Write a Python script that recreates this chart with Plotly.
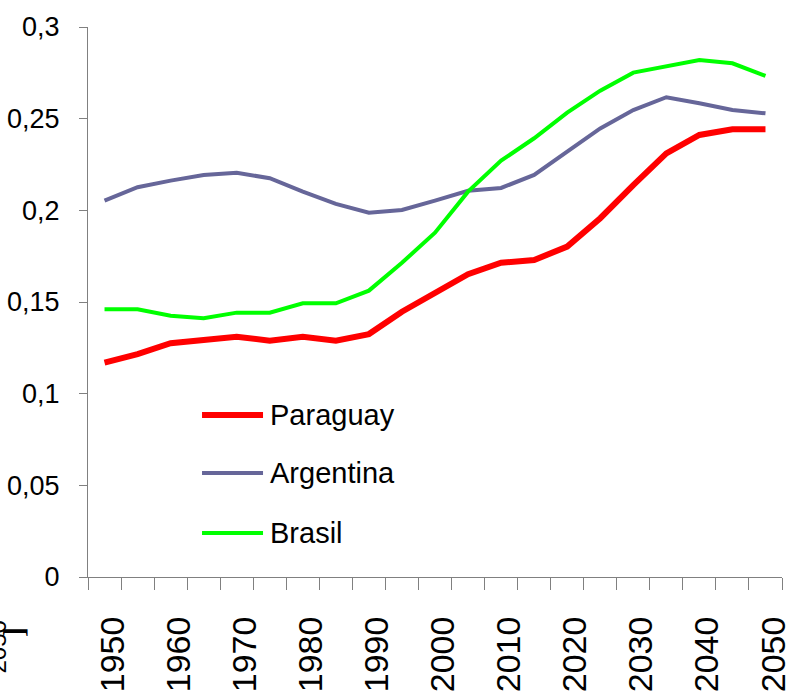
import plotly.graph_objects as go

# Years (every five years, 1950-2050)
years = list(range(1950, 2055, 5))

paraguay = [0.1169, 0.1216, 0.1275, 0.1293, 0.1311, 0.1289, 0.1311, 0.1289, 0.1325, 0.1447,
            0.1547, 0.1652, 0.1714, 0.1729, 0.1802, 0.1957, 0.2138, 0.2311, 0.2411, 0.2442, 0.2442]
argentina = [0.2053, 0.2126, 0.2162, 0.2193, 0.2205, 0.2175, 0.2102, 0.2035, 0.1987, 0.2002,
             0.2053, 0.2107, 0.2122, 0.2193, 0.2320, 0.2447, 0.2547, 0.2617, 0.2584, 0.2547, 0.2529]
brasil = [0.1460, 0.1460, 0.1425, 0.1411, 0.1442, 0.1442, 0.1493, 0.1493, 0.1562, 0.1714,
          0.1878, 0.2102, 0.2271, 0.2393, 0.2533, 0.2653, 0.2751, 0.2784, 0.2820, 0.2802, 0.2733]

series_names = ["Paraguay", "Argentina", "Brasil"]
series_values = [paraguay, argentina, brasil]
series_colors = ["#FF0000", "#666699", "#00FF00"]
series_widths = [6, 4, 4]

label_years = list(range(1950, 2051, 10))
y_ticks = [0, 0.05, 0.1, 0.15, 0.2, 0.25, 0.3]

FONT = "Liberation Sans, Arial, sans-serif"

fig = go.Figure()
for name, vals, col, w in zip(series_names, series_values, series_colors, series_widths):
    fig.add_trace(go.Scatter(
        x=years, y=vals, mode="lines", name=name,
        line=dict(color=col, width=w), showlegend=False,
    ))

# Hand-drawn legend: line sample plus label for each series
legend_rows_y = [0.2945, 0.1891, 0.080]
for name, col, w, yy in zip(series_names, series_colors, series_widths, legend_rows_y):
    fig.add_shape(type="line", xref="paper", yref="paper",
                  x0=0.1643, x1=0.2522, y0=yy, y1=yy,
                  line=dict(color=col, width=w))
    fig.add_annotation(xref="paper", yref="paper", x=0.2594, y=yy,
                       xanchor="left", yanchor="middle", showarrow=False,
                       text=name, font=dict(family=FONT, size=29, color="black"))

# Partially visible side caption at the lower-left edge
fig.add_annotation(xref="paper", yref="paper", x=-0.131, y=-0.128,
                   textangle=-90, showarrow=False, xanchor="center", yanchor="middle",
                   text="2050", font=dict(family=FONT, size=24, color="black"))
fig.add_annotation(xref="paper", yref="paper", x=-0.108, y=-0.10,
                   textangle=-90, showarrow=False, xanchor="center", yanchor="middle",
                   text="<b>]</b>", font=dict(family="Liberation Serif, serif", size=30, color="black"))

fig.update_layout(
    width=792, height=698,
    margin=dict(l=88, r=10, t=27, b=121),
    paper_bgcolor="white", plot_bgcolor="white",
    separators=", ",
    xaxis=dict(
        range=[1947.5, 2052.5], automargin=False,
        tickmode="array", tickvals=label_years,
        ticktext=[str(y) for y in label_years],
        tickangle=-90, ticks="", ticklabelstandoff=25, ticklabelshift=8,
        ticklabeloverflow="allow",
        tickfont=dict(family=FONT, size=34, color="black"),
        showline=True, linecolor="#808080", linewidth=1,
        showgrid=False, zeroline=False,
        minor=dict(tick0=1947.5, dtick=5, ticks="outside", ticklen=12,
                   tickcolor="#808080", showgrid=False),
    ),
    yaxis=dict(
        range=[0, 0.3], automargin=False,
        tickmode="array", tickvals=y_ticks,
        ticks="outside", ticklen=8, tickcolor="#808080",
        ticklabelstandoff=14,
        tickfont=dict(family=FONT, size=27, color="black"),
        showline=True, linecolor="#808080", linewidth=1,
        showgrid=False, zeroline=False,
    ),
)

fig.write_html("out.html")
